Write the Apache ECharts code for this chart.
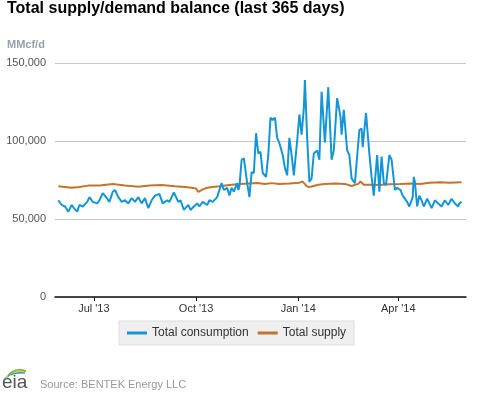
<!DOCTYPE html>
<html><head><meta charset="utf-8">
<script src="https://cdn.jsdelivr.net/npm/echarts@6/dist/echarts.min.js"></script>
<style>html,body{margin:0;padding:0;background:#fff}#c{width:477px;height:393px}</style>
</head><body><div id="c"></div>
<script>
// Day offsets are counted from 1 Jul 2013
const consDay = [-32,-29,-26,-23,-20,-18,-15,-13,-10,-6,-4,-1,3,5,8,12,14,17,19,22,25,28,31,34,37,40,43,46,49,52,55,59,62,66,68,72,76,78,81,85,87,90,93,95,98,102,104,107,111,112,115,117,120,122,124,126,129,130,131,133,135,138,140,142,144,146,148,150,152,155,157,159,161,163,165,167,170,172,174,176,178,180,183,185,187,189,190,192,194,196,198,201,203,205,208,211,214,216,219,222,223,225,228,230,232,235,239,241,242,245,246,248,250,252,255,257,259,261,263,266,268,271,273,276,278,282,284,285,287,288,289,291,293,295,297,300,302,304,307,310,313,316,319,322,325,328,329,331];
const consVal = [62000,59000,58000,54700,59000,57000,54700,59000,58000,61000,64000,61000,60000,62000,66600,63000,61000,67500,68600,64000,61000,62000,60000,63400,61000,64000,60000,63400,57000,62000,65000,66000,60000,62000,61000,67000,61000,62000,55800,59000,55800,58000,60000,58000,61000,59000,62000,61000,64000,63000,73000,68600,70000,65000,70000,67500,73000,68600,70700,87800,89000,73000,64000,80000,79500,105000,92000,93000,79500,77000,91000,115000,113500,115000,102000,98700,91000,82700,78000,102000,91000,78000,100000,117000,104000,121000,139000,102000,73700,76000,92000,94000,88000,131500,99000,134500,88000,94000,127500,115600,104000,120000,94000,91000,76000,73000,107000,108000,96000,118000,109000,92000,77000,65000,91000,67500,90000,73000,71800,91000,88000,68600,70000,68600,65000,61000,58000,57000,64000,77000,73700,58000,65000,62000,58000,63000,60000,57000,62000,60000,58000,62000,59000,63000,60000,58000,60000,61000];
const supDay = [-32,-26,-20,-13,-5,5,17,28,40,50,61,73,82,88,92,94,98,102,107,113,122,131,140,147,154,160,167,176,185,188,191,193,196,202,208,217,226,232,238,240,243,249,257,266,276,285,294,302,312,320,331];
const supVal = [71000,70500,70000,70500,71400,71500,72400,71500,70700,71500,71800,71000,70500,70000,69500,67300,69000,70000,70500,71000,71800,72400,72800,73000,72500,73000,72400,72800,73300,74000,71500,70500,70800,72000,72500,72800,72500,71200,72500,74000,72000,72000,71800,72200,72400,72800,72500,73200,73500,73300,73500];
const seriesNames = ['Total consumption', 'Total supply'];
const tickDays = [0, 92, 184, 274];            // 1 Jul 2013, 1 Oct 2013, 1 Jan 2014, 1 Apr 2014
const tickLabels = ["Jul '13", "Oct '13", "Jan '14", "Apr '14"];
const yTicks = [0, 50000, 100000, 150000];

const consData = consDay.map((d, i) => [d, consVal[i]]);
const supData = supDay.map((d, i) => [d, supVal[i]]);

const chart = echarts.init(document.getElementById('c'), null, {renderer: 'canvas'});
const FONT = '"Liberation Sans", Arial, sans-serif';
chart.setOption({
  animation: false,
  backgroundColor: '#fff',
  textStyle: {fontFamily: FONT},
  title: {
    text: 'Total supply/demand balance (last 365 days)',
    left: 7, top: 1, padding: 0,
    textStyle: {fontSize: 16, fontWeight: 'bold', color: '#000', fontFamily: FONT}
  },
  grid: {left: 55, right: 11, top: 63, bottom: 96, containLabel: false},
  xAxis: {
    type: 'value',
    min: -35, max: 335,
    axisLine: {show: true, lineStyle: {color: '#111', width: 1.5}},
    axisTick: {show: true, customValues: tickDays, length: 4, lineStyle: {color: '#111'}},
    axisLabel: {
      customValues: tickDays, margin: 6, fontSize: 11, color: '#333', fontFamily: FONT,
      formatter: v => tickLabels[tickDays.indexOf(v)] || ''
    },
    splitLine: {show: false}
  },
  yAxis: {
    type: 'value', min: yTicks[0], max: yTicks[yTicks.length - 1], interval: 50000,
    axisLine: {show: false}, axisTick: {show: false},
    axisLabel: {margin: 9, fontSize: 11, color: '#555', fontFamily: FONT, formatter: v => v.toLocaleString('en-US')},
    splitLine: {lineStyle: {color: '#c8c8c8', width: 1}}
  },
  legend: {
    left: 119, top: 321,
    padding: [6, 8, 6, 8],
    backgroundColor: '#efefef', borderColor: '#dddddd', borderWidth: 1,
    icon: 'rect', itemWidth: 20, itemHeight: 3, itemGap: 9,
    textStyle: {fontSize: 12, color: '#333', fontFamily: FONT},
    data: seriesNames
  },
  series: [
    {name: seriesNames[0], type: 'line', data: consData, symbol: 'none', smooth: false,
     lineStyle: {color: '#1496d6', width: 2}, itemStyle: {color: '#1496d6'}, z: 3},
    {name: seriesNames[1], type: 'line', data: supData, symbol: 'none',
     lineStyle: {color: '#c4732c', width: 2}, itemStyle: {color: '#c4732c'}, z: 2}
  ],
  graphic: [
    {type: 'text', left: 7, top: 39, style: {text: 'MMcf/d', font: 'bold 11px ' + FONT, fill: '#9aa0a8'}},
    {type: 'text', left: 40, top: 379, style: {text: 'Source: BENTEK Energy LLC', font: '11px ' + FONT, fill: '#999'}},
    {type: 'text', left: 2, top: 373, style: {text: 'eia', font: '19px ' + FONT, fill: '#555'}},
    {type: 'bezierCurve', shape: {x1: 4, y1: 380, cpx1: 10, cpy1: 371, x2: 25, y2: 373}, style: {stroke: '#1b8fd0', lineWidth: 1.5, fill: null}},
    {type: 'bezierCurve', shape: {x1: 6, y1: 378, cpx1: 12, cpy1: 369, x2: 26, y2: 372}, style: {stroke: '#f2c21b', lineWidth: 1.5, fill: null}},
    {type: 'bezierCurve', shape: {x1: 8, y1: 376, cpx1: 14, cpy1: 367, x2: 26, y2: 371}, style: {stroke: '#5cb546', lineWidth: 1.5, fill: null}}
  ]
});
</script></body></html>
